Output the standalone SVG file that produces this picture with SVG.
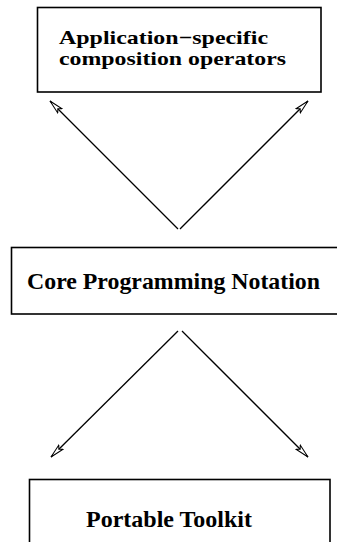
<svg xmlns="http://www.w3.org/2000/svg" width="337" height="542" viewBox="0 0 337 542">
<style>
.box{fill:#fff;stroke:#000;stroke-width:1.6}
.lbl{font-family:"Liberation Serif","Times New Roman",serif;font-weight:bold;fill:#000}
.conn{stroke:#000;stroke-width:1.3;fill:none;marker-end:url(#ah)}
</style>
<defs>
<marker id="ah" viewBox="0 0 15 8" refX="14.5" refY="4" markerWidth="15" markerHeight="8" markerUnits="userSpaceOnUse" orient="auto">
<path d="M0.5,1 L14.5,4 L0.5,7 L3.5,4 Z" fill="#fff" stroke="#000" stroke-width="1"/>
</marker>
</defs>
<g id="node-app">
<rect class="box" x="37.5" y="7.5" width="283.5" height="84.5"/>
<text class="lbl" x="59" y="44" font-size="19.5" textLength="209" lengthAdjust="spacingAndGlyphs">Application−specific</text>
<text class="lbl" x="59" y="65" font-size="19.5" textLength="227" lengthAdjust="spacingAndGlyphs">composition operators</text>
</g>
<g id="node-core">
<rect class="box" x="11.5" y="247.5" width="340" height="66.5"/>
<text class="lbl" x="27" y="289" font-size="23.5" textLength="293" lengthAdjust="spacingAndGlyphs">Core Programming Notation</text>
</g>
<g id="node-toolkit">
<rect class="box" x="29.5" y="479.5" width="300.5" height="80"/>
<text class="lbl" x="86" y="527" font-size="23.5" textLength="166" lengthAdjust="spacingAndGlyphs">Portable Toolkit</text>
</g>
<g id="connectors">
<path class="conn" d="M178,229 L50,101"/>
<path class="conn" d="M180,229 L308,101"/>
<path class="conn" d="M178,331 L51,457"/>
<path class="conn" d="M182,331 L308,457"/>
</g>
</svg>
